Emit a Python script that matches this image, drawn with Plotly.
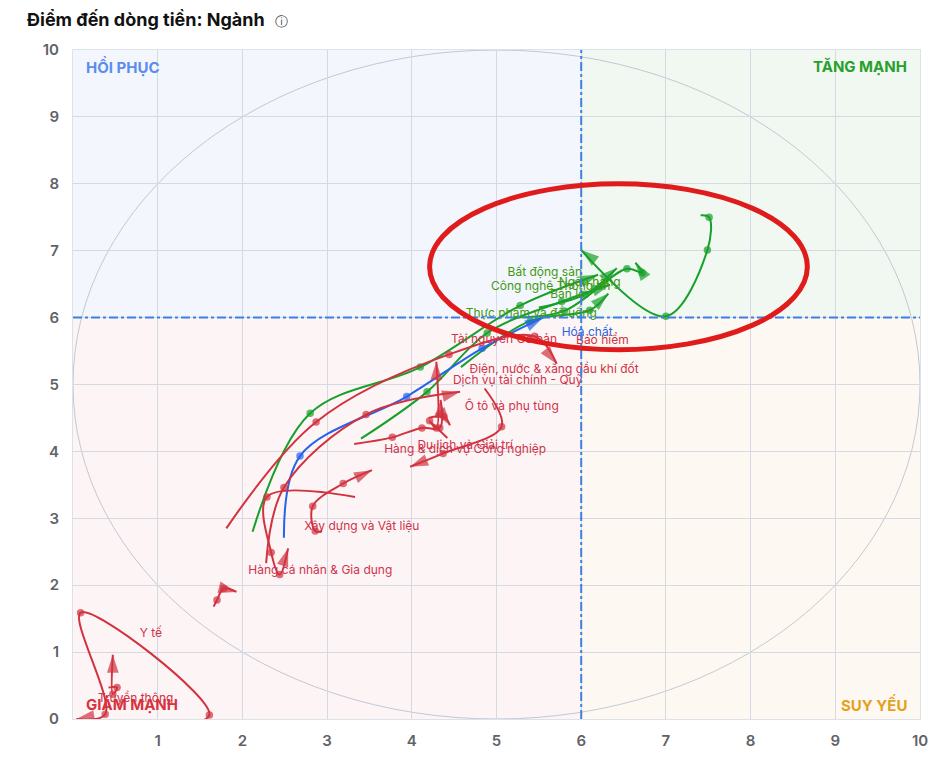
import plotly.graph_objects as go

# ---------------- data ----------------
# Green trails (TĂNG MẠNH)
ngan_hang_x = [7.41, 7.51, 7.49, 7.00, 6.00]
ngan_hang_y = [7.53, 7.50, 7.01, 6.02, 7.01]
bat_dong_san_x = [2.12, 2.80, 4.10, 5.28, 6.20]
bat_dong_san_y = [2.80, 4.57, 5.26, 6.18, 6.64]
thuc_pham_x = [3.40, 4.18, 4.89, 5.77, 6.34]
thuc_pham_y = [4.19, 4.89, 5.77, 6.24, 6.49]
cntt_x = [4.58, 5.40, 6.10, 6.32]
cntt_y = [5.26, 5.95, 6.11, 6.36]
ban_le_x = [5.20, 5.80, 6.54, 6.72, 6.64]
ban_le_y = [6.00, 6.10, 6.73, 6.67, 6.82]
green6_x = [5.50, 6.05, 6.42]
green6_y = [6.15, 6.35, 6.74]
# Blue trail
hoa_chat_x = [2.49, 2.68, 3.94, 4.83, 5.55]
hoa_chat_y = [2.71, 3.93, 4.82, 5.54, 6.00]
# Red trails
tai_nguyen_x = [1.81, 2.87, 4.44, 5.45, 5.71]
tai_nguyen_y = [2.85, 4.44, 5.45, 5.72, 5.31]
dv_tai_chinh_x = [2.28, 2.49, 3.46, 4.57]
dv_tai_chinh_y = [2.33, 3.46, 4.55, 4.89]
xay_dung_x = [2.94, 2.86, 2.83, 3.19, 3.53]
xay_dung_y = [2.81, 2.81, 3.18, 3.52, 3.72]
hang_ca_nhan_x = [3.33, 2.29, 2.34, 2.44, 2.54]
hang_ca_nhan_y = [3.32, 3.32, 2.49, 2.16, 2.55]
hang_cong_nghiep_x = [3.32, 3.77, 4.12, 4.33, 4.34]
hang_cong_nghiep_y = [4.11, 4.21, 4.35, 4.35, 4.77]
du_lich_x = [4.42, 4.21, 4.29, 4.29]
du_lich_y = [4.20, 4.46, 4.35, 5.34]
red7_x = [4.20, 4.38, 4.45]
red7_y = [4.50, 4.52, 4.39]
o_to_x = [4.86, 5.06, 4.37, 3.98]
o_to_y = [4.94, 4.37, 3.97, 3.77]
red9_x = [1.66, 1.70, 1.78, 1.93]
red9_y = [1.68, 1.78, 1.95, 1.90]
truyen_thong_x = [0.42, 0.52, 0.47, 0.47]
truyen_thong_y = [0.47, 0.47, 0.37, 0.96]
y_te_x = [0.75, 1.61, 0.09, 0.38, 0.04]
y_te_y = [-0.12, 0.06, 1.59, 0.07, 0.00]

# Labels
label_names = ["Bất động sản", "Công nghệ Thông tin", "Ngân hàng", "Bán lẻ",
               "Thực phẩm và đồ uống", "Hóa chất", "Bảo hiểm", "Tài nguyên Cơ bản",
               "Điện, nước & xăng dầu khí đốt", "Dịch vụ tài chính - Quỹ",
               "Ô tô và phụ tùng", "Du lịch và Giải trí", "Hàng & dịch vụ Công nghiệp",
               "Xây dựng và Vật liệu", "Hàng cá nhân & Gia dụng", "Y tế", "Truyền thông"]
label_x = [5.57, 5.64, 6.10, 5.84, 5.41, 6.07, 6.25, 5.09, 5.68, 5.25, 5.18, 4.63, 4.63,
           3.41, 2.92, 0.92, 0.74]
label_y = [6.67, 6.46, 6.52, 6.34, 6.05, 5.77, 5.65, 5.67, 5.22, 5.05, 4.66, 4.08, 4.02,
           2.87, 2.21, 1.27, 0.30]
label_group = ["g", "g", "g", "g", "g", "b", "r", "r", "r", "r", "r", "r", "r", "r", "r", "r", "r"]

x_ticks = [1, 2, 3, 4, 5, 6, 7, 8, 9, 10]
y_ticks = [0, 1, 2, 3, 4, 5, 6, 7, 8, 9, 10]
divider = 6

# ---------------- styles ----------------
GREEN = "#17a02a"
BLUE = "#2563eb"
RED = "#d2323f"
LABEL_COL = {"g": "#3f9a12", "b": "#2f62e0", "r": "#d0324a"}

fig = go.Figure()

def add_trail(xs, ys, color):
    n = len(xs)
    fig.add_trace(go.Scatter(
        x=xs, y=ys, mode="lines+markers",
        line=dict(color=color, width=2, shape="spline", smoothing=1.0),
        marker=dict(color=color, size=[7.5] * (n - 1) + [19],
                    symbol=["circle"] * (n - 1) + ["arrow"],
                    angleref="previous", line=dict(width=0)),
        hoverinfo="skip", showlegend=False))

for xs, ys in [(ngan_hang_x, ngan_hang_y), (bat_dong_san_x, bat_dong_san_y),
               (thuc_pham_x, thuc_pham_y), (cntt_x, cntt_y), (ban_le_x, ban_le_y),
               (green6_x, green6_y)]:
    add_trail(xs, ys, GREEN)
add_trail(hoa_chat_x, hoa_chat_y, BLUE)
for xs, ys in [(tai_nguyen_x, tai_nguyen_y), (dv_tai_chinh_x, dv_tai_chinh_y),
               (xay_dung_x, xay_dung_y), (hang_ca_nhan_x, hang_ca_nhan_y),
               (hang_cong_nghiep_x, hang_cong_nghiep_y), (du_lich_x, du_lich_y),
               (red7_x, red7_y), (o_to_x, o_to_y), (red9_x, red9_y),
               (truyen_thong_x, truyen_thong_y), (y_te_x, y_te_y)]:
    add_trail(xs, ys, RED)

for grp in ["g", "b", "r"]:
    idx = [i for i, g in enumerate(label_group) if g == grp]
    fig.add_trace(go.Scatter(
        x=[label_x[i] for i in idx], y=[label_y[i] for i in idx],
        text=[label_names[i] for i in idx], mode="text",
        textfont=dict(family="Inter, Roboto, sans-serif", size=12, color=LABEL_COL[grp]),
        textposition="middle center", hoverinfo="skip", showlegend=False))

# Quadrant backgrounds
quads = [(0, divider, divider, 10, "#f3f6fc"), (divider, 10, divider, 10, "#f1f8f1"),
         (0, divider, 0, divider, "#fcf4f5"), (divider, 10, 0, divider, "#fdf9f2")]
shapes = []
for x0, x1, y0, y1, c in quads:
    shapes.append(dict(type="rect", xref="x", yref="y", x0=x0, x1=x1, y0=y0, y1=y1,
                       fillcolor=c, line=dict(width=0), layer="below"))
shapes.append(dict(type="circle", xref="x", yref="y", x0=0, x1=10, y0=0, y1=10,
                   line=dict(color="#b4bccb", width=0.8), layer="below"))
shapes.append(dict(type="line", xref="x", yref="y", x0=divider, x1=divider, y0=0, y1=10,
                   line=dict(color="#3d7fe6", width=2, dash="dashdot")))
shapes.append(dict(type="line", xref="x", yref="y", x0=0, x1=10, y0=divider, y1=divider,
                   line=dict(color="#3d7fe6", width=2, dash="dashdot")))
shapes.append(dict(type="circle", xref="x", yref="y", x0=4.21, x1=8.67, y0=5.52, y1=8.0,
                   line=dict(color="#e01b1b", width=5)))

qfont = dict(family="Inter, Roboto, sans-serif", size=15, weight=700)
annotations = [
    dict(x=0.13, y=9.76, xref="x", yref="y", text="HỒI PHỤC", showarrow=False,
         xanchor="left", font=dict(qfont, color="#5a8def")),
    dict(x=9.87, y=9.76, xref="x", yref="y", text="TĂNG MẠNH", showarrow=False,
         xanchor="right", font=dict(qfont, color="#27a02c")),
    dict(x=0.13, y=0.21, xref="x", yref="y", text="GIẢM MẠNH", showarrow=False,
         xanchor="left", font=dict(qfont, color="#d8323f")),
    dict(x=9.87, y=0.21, xref="x", yref="y", text="SUY YẾU", showarrow=False,
         xanchor="right", font=dict(qfont, color="#e4a11b")),
    dict(x=-0.057, y=1.045, xref="paper", yref="paper", xanchor="left", yanchor="middle",
         text="<b>Điểm đến dòng tiền: Ngành</b>  <span style='font-size:13px;color:#444'>ⓘ</span>",
         showarrow=False, font=dict(family="Inter, Roboto, sans-serif", size=18, color="#111")),
]

axis_common = dict(range=[0, 10], showgrid=True, gridcolor="#d5d9e1", gridwidth=1,
                   zeroline=False, showline=True, linecolor="#dde1e8", linewidth=1,
                   mirror=True, ticks="", fixedrange=True,
                   tickfont=dict(family="Inter, Roboto, sans-serif", size=15,
                                 color="#5f6368", weight=600))

fig.update_layout(
    width=952, height=762,
    margin=dict(l=65, r=40, t=42, b=51),
    paper_bgcolor="white", plot_bgcolor="white",
    shapes=shapes, annotations=annotations, showlegend=False,
    xaxis=dict(axis_common, tickvals=x_ticks, ticktext=[str(v) for v in x_ticks],
               ticklabelstandoff=8),
    yaxis=dict(axis_common, tickvals=y_ticks, ticktext=[str(v) for v in y_ticks],
               ticklabelstandoff=10),
)

fig.write_html("out.html")
